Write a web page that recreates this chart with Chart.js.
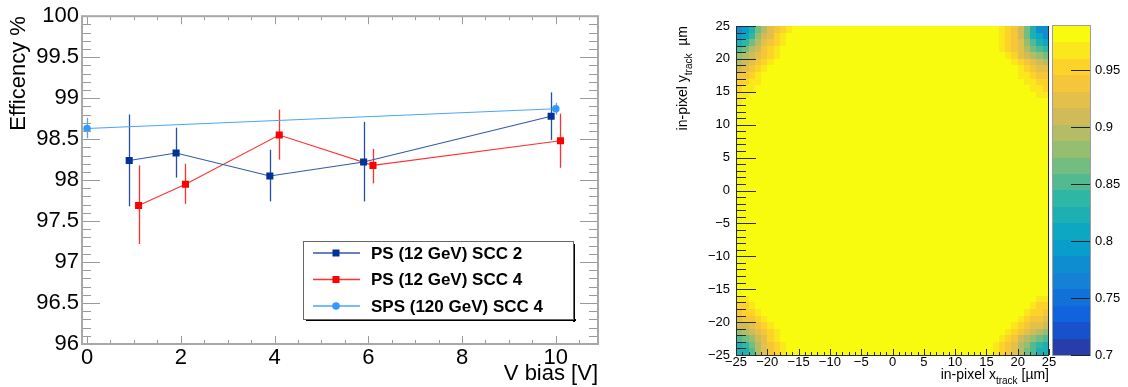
<!DOCTYPE html>
<html>
<head>
<meta charset="utf-8">
<script src="https://cdn.jsdelivr.net/npm/chart.js@4.4.1/dist/chart.umd.min.js"></script>
<style>
html, body { margin: 0; padding: 0; background: #fff; }
body { width: 1128px; height: 387px; position: relative; overflow: hidden; }
#effBox { position: absolute; left: 0; top: 0; width: 620px; height: 387px; }
#mapBox { position: absolute; left: 640px; top: 0; width: 488px; height: 387px; }
</style>
</head>
<body>
<div id="effBox"><canvas id="effChart"></canvas></div>
<div id="mapBox"><canvas id="mapChart"></canvas></div>
<script>
// efficiency vs bias voltage
const vbias_scc2 = [0.9, 1.9, 3.9, 5.9, 9.9];
const eff_scc2 = [98.24, 98.33, 98.05, 98.22, 98.78];
const errLo_scc2 = [97.68, 98.03, 97.74, 97.74, 98.49];
const errHi_scc2 = [98.80, 98.64, 98.37, 98.71, 99.07];

const vbias_scc4 = [1.1, 2.1, 4.1, 6.1, 10.1];
const eff_scc4 = [97.69, 97.95, 98.55, 98.18, 98.48];
const errLo_scc4 = [97.22, 97.71, 98.25, 97.96, 98.15];
const errHi_scc4 = [98.18, 98.20, 98.86, 98.38, 98.81];

const vbias_sps = [0, 10];
const eff_sps = [98.63, 98.87];
const errLo_sps = [98.51, 98.80];
const errHi_sps = [98.76, 98.94];

const xTickLabels = [0, 2, 4, 6, 8, 10];
const yTickLabels = [96, 96.5, 97, 97.5, 98, 98.5, 99, 99.5, 100];

// in-pixel efficiency map, 1 um bins from -25 to 25
const mapTickLabels = [-25, -20, -15, -10, -5, 0, 5, 10, 15, 20, 25];
const zTickLabels = [0.7, 0.75, 0.8, 0.85, 0.9, 0.95];
const zMin = 0.7;
const zMax = 0.9886;
const plateauEff = 0.985;
// corners: row 0 is the row at the pixel edge, each row starts at the corner column
const cornerTopLeft = [
  [0.779, 0.794, 0.823, 0.866, 0.895, 0.924, 0.938, 0.953, 0.967],
  [0.794, 0.808, 0.837, 0.880, 0.909, 0.924, 0.953, 0.967],
  [0.823, 0.837, 0.866, 0.895, 0.924, 0.938, 0.953, 0.967],
  [0.852, 0.866, 0.895, 0.909, 0.938, 0.953, 0.967],
  [0.880, 0.895, 0.909, 0.924, 0.938, 0.953, 0.967],
  [0.895, 0.909, 0.924, 0.938, 0.953, 0.967],
  [0.909, 0.924, 0.938, 0.953, 0.967],
  [0.938, 0.938, 0.953, 0.967],
  [0.953, 0.953, 0.967, 0.967],
  [0.953, 0.967, 0.967],
  [0.967, 0.967],
  [0.967]
];
const cornerTopRight = [
  [0.779, 0.782, 0.823, 0.866, 0.909, 0.938, 0.953, 0.967],
  [0.785, 0.808, 0.823, 0.866, 0.909, 0.938, 0.953, 0.967],
  [0.808, 0.823, 0.852, 0.880, 0.924, 0.938, 0.953, 0.967],
  [0.837, 0.852, 0.866, 0.895, 0.924, 0.938, 0.953, 0.967],
  [0.866, 0.880, 0.895, 0.909, 0.924, 0.953, 0.967],
  [0.895, 0.909, 0.924, 0.938, 0.953, 0.967],
  [0.924, 0.924, 0.938, 0.953, 0.967],
  [0.938, 0.938, 0.953, 0.967, 0.967],
  [0.953, 0.953, 0.967, 0.967],
  [0.953, 0.967, 0.967],
  [0.967, 0.967]
];
const cornerBottomLeft = [
  [0.823, 0.823, 0.852, 0.895, 0.924, 0.938, 0.953, 0.967],
  [0.823, 0.837, 0.866, 0.895, 0.924, 0.938, 0.953, 0.967],
  [0.852, 0.866, 0.880, 0.909, 0.924, 0.953, 0.967],
  [0.880, 0.895, 0.909, 0.924, 0.938, 0.953, 0.967],
  [0.909, 0.909, 0.924, 0.938, 0.953, 0.967],
  [0.924, 0.938, 0.938, 0.953, 0.967],
  [0.938, 0.953, 0.953, 0.967],
  [0.953, 0.953, 0.967],
  [0.967, 0.967]
];
const cornerBottomRight = [
  [0.823, 0.823, 0.852, 0.866, 0.895, 0.924, 0.938, 0.953, 0.967],
  [0.823, 0.837, 0.852, 0.880, 0.895, 0.924, 0.938, 0.953, 0.967],
  [0.852, 0.866, 0.880, 0.895, 0.909, 0.938, 0.953, 0.967],
  [0.880, 0.895, 0.909, 0.924, 0.938, 0.953, 0.967],
  [0.909, 0.924, 0.924, 0.938, 0.953, 0.967],
  [0.924, 0.938, 0.938, 0.953, 0.967],
  [0.938, 0.953, 0.953, 0.967],
  [0.953, 0.953, 0.967],
  [0.967, 0.967]
];

Chart.defaults.font.family = "'Liberation Sans', Arial, sans-serif";
Chart.defaults.color = '#000';

// ROOT style frame with ticks pointing inwards
const effFrame = {
  id: 'effFrame',
  afterDatasetsDraw(chart) {
    const { ctx, chartArea: a, scales: { x, y } } = chart;
    ctx.save();
    ctx.strokeStyle = '#9a9a9a';
    ctx.lineWidth = 1;
    ctx.beginPath();
    for (let i = 0; i <= 40; i++) {
      const v = 96 + i * 0.1;
      const py = Math.round(y.getPixelForValue(v)) + 0.5;
      const len = i % 5 === 0 ? 18 : 9;
      ctx.moveTo(a.left, py); ctx.lineTo(a.left + len, py);
      ctx.moveTo(a.right, py); ctx.lineTo(a.right - len, py);
    }
    for (let i = 0; i <= 21; i++) {
      const v = i * 0.5;
      const px = Math.round(x.getPixelForValue(v)) + 0.5;
      const len = i % 4 === 0 ? 8 : 4;
      ctx.moveTo(px, a.bottom); ctx.lineTo(px, a.bottom - len);
      ctx.moveTo(px, a.top); ctx.lineTo(px, a.top + len);
    }
    ctx.stroke();
    ctx.strokeStyle = '#a8a8a8';
    ctx.lineWidth = 2;
    ctx.strokeRect(a.left, a.top, a.right - a.left, a.bottom - a.top);
    ctx.restore();
  }
};

const errorBars = {
  id: 'errorBars',
  beforeDatasetsDraw(chart) {
    const { ctx, scales: { x, y } } = chart;
    chart.data.datasets.forEach(ds => {
      ctx.save();
      ctx.strokeStyle = ds.errColor;
      ctx.lineWidth = 1.3;
      ds.data.forEach((p, j) => {
        const px = Math.round(x.getPixelForValue(p.x)) + 0.5;
        ctx.beginPath();
        ctx.moveTo(px, y.getPixelForValue(ds.errLo[j]));
        ctx.lineTo(px, y.getPixelForValue(ds.errHi[j]));
        ctx.stroke();
      });
      ctx.restore();
    });
  }
};

const legendBox = {
  id: 'legendBox',
  afterDraw(chart) {
    const { ctx } = chart;
    const bx = 303, by = 241, bw = 270, bh = 78;
    ctx.save();
    ctx.fillStyle = '#000';
    ctx.fillRect(bx + 3, by + bh, bw, 2);
    ctx.fillRect(bx + bw, by + 3, 2, bh);
    ctx.fillStyle = '#fff';
    ctx.fillRect(bx, by, bw, bh);
    ctx.strokeStyle = '#666';
    ctx.lineWidth = 1;
    ctx.strokeRect(bx + 0.5, by + 0.5, bw, bh);
    ctx.font = "bold 17px 'Liberation Sans', Arial, sans-serif";
    ctx.textBaseline = 'middle';
    chart.data.datasets.forEach((ds, i) => {
      const ry = by + 12 + i * 26.5;
      ctx.strokeStyle = ds.borderColor;
      ctx.lineWidth = 1.3;
      ctx.beginPath(); ctx.moveTo(313, ry); ctx.lineTo(360, ry); ctx.stroke();
      ctx.fillStyle = ds.pointBackgroundColor;
      if (ds.pointStyle === 'rect') {
        ctx.fillRect(332.5, ry - 3.5, 7, 7);
      } else {
        ctx.beginPath(); ctx.arc(336, ry, 3.8, 0, Math.PI * 2); ctx.fill();
      }
      ctx.fillStyle = '#000';
      ctx.fillText(ds.label, 371, ry + 1);
    });
    ctx.restore();
  }
};

function toPoints(xs, ys) {
  return xs.map((v, i) => ({ x: v, y: ys[i] }));
}

new Chart(document.getElementById('effChart'), {
  type: 'scatter',
  data: {
    datasets: [
      {
        label: 'PS (12 GeV) SCC 2',
        data: toPoints(vbias_scc2, eff_scc2),
        errLo: errLo_scc2, errHi: errHi_scc2, errColor: '#2650a6',
        showLine: true, borderColor: '#3358a8', borderWidth: 1.1,
        pointStyle: 'rect', pointRadius: 5,
        pointBackgroundColor: '#003399', pointBorderColor: '#003399', pointBorderWidth: 0
      },
      {
        label: 'PS (12 GeV) SCC 4',
        data: toPoints(vbias_scc4, eff_scc4),
        errLo: errLo_scc4, errHi: errHi_scc4, errColor: '#ff3030',
        showLine: true, borderColor: '#ff3030', borderWidth: 1.1,
        pointStyle: 'rect', pointRadius: 5,
        pointBackgroundColor: '#ff0000', pointBorderColor: '#ff0000', pointBorderWidth: 0
      },
      {
        label: 'SPS (120 GeV) SCC 4',
        data: toPoints(vbias_sps, eff_sps),
        errLo: errLo_sps, errHi: errHi_sps, errColor: '#4aa3ff',
        showLine: true, borderColor: '#4aa3ff', borderWidth: 1.1,
        pointStyle: 'circle', pointRadius: 3.8,
        pointBackgroundColor: '#3399ff', pointBorderColor: '#3399ff', pointBorderWidth: 0
      }
    ]
  },
  options: {
    responsive: true,
    maintainAspectRatio: false,
    animation: false,
    devicePixelRatio: 1,
    layout: { padding: { left: 6, top: 15, right: 22, bottom: 0 } },
    plugins: { legend: { display: false }, tooltip: { enabled: false } },
    scales: {
      x: {
        type: 'linear', min: -0.107, max: 10.9,
        afterBuildTicks: s => { s.ticks = xTickLabels.map(v => ({ value: v })); },
        afterFit: s => { s.height = 43; },
        grid: { display: false, drawTicks: false },
        border: { display: false },
        ticks: { font: { size: 22 }, padding: 1, maxRotation: 0, autoSkip: false, callback: v => String(v) },
        title: { display: true, text: 'V bias [V]', align: 'end', font: { size: 22 }, padding: 0 }
      },
      y: {
        type: 'linear', min: 96, max: 100,
        afterBuildTicks: s => { s.ticks = yTickLabels.map(v => ({ value: v })); },
        afterFit: s => { s.width = 76; },
        grid: { display: false, drawTicks: false },
        border: { display: false },
        ticks: { font: { size: 22 }, padding: 3, autoSkip: false, callback: v => String(v) },
        title: { display: true, text: 'Efficency %', align: 'end', font: { size: 22 }, padding: 0 }
      }
    }
  },
  plugins: [errorBars, effFrame, legendBox]
});

// kBird palette
const birdStops = [0, 0.125, 0.25, 0.375, 0.5, 0.625, 0.75, 0.875, 1];
const birdR = [0.2082, 0.0592, 0.0780, 0.0232, 0.1802, 0.5301, 0.8186, 0.9956, 0.9764];
const birdG = [0.1664, 0.3599, 0.5041, 0.6419, 0.7178, 0.7492, 0.7328, 0.7862, 0.9832];
const birdB = [0.5293, 0.8684, 0.8385, 0.7914, 0.6425, 0.4662, 0.3499, 0.1968, 0.0539];
const nContours = 20;

function birdColor(t) {
  let i = 0;
  while (i < birdStops.length - 2 && t > birdStops[i + 1]) i++;
  const f = (t - birdStops[i]) / (birdStops[i + 1] - birdStops[i]);
  const c = arr => Math.round(255 * (arr[i] + f * (arr[i + 1] - arr[i])));
  return `rgb(${c(birdR)},${c(birdG)},${c(birdB)})`;
}
const bandColors = [];
for (let k = 0; k < nContours; k++) {
  bandColors.push(birdColor(Math.min(1, Math.floor((k + 0.99) * 255 / nContours) / 254)));
}
function colorFor(z) {
  let k = Math.floor((z - zMin) / (zMax - zMin) * nContours);
  k = Math.max(0, Math.min(nContours - 1, k));
  return bandColors[k];
}

// 50 x 50 map, index [ix][iy]
const nBins = 50;
const effMap = [];
for (let ix = 0; ix < nBins; ix++) effMap.push(new Array(nBins).fill(plateauEff));
cornerTopLeft.forEach((row, r) => row.forEach((v, c) => { effMap[c][nBins - 1 - r] = v; }));
cornerTopRight.forEach((row, r) => row.forEach((v, c) => { effMap[nBins - 1 - c][nBins - 1 - r] = v; }));
cornerBottomLeft.forEach((row, r) => row.forEach((v, c) => { effMap[c][r] = v; }));
cornerBottomRight.forEach((row, r) => row.forEach((v, c) => { effMap[nBins - 1 - c][r] = v; }));

const mapCells = {
  id: 'mapCells',
  beforeDatasetsDraw(chart) {
    const { ctx, scales: { x, y, z } } = chart;
    ctx.save();
    for (let ix = 0; ix < nBins; ix++) {
      const x0 = Math.round(x.getPixelForValue(-25 + ix));
      const x1 = Math.round(x.getPixelForValue(-24 + ix));
      for (let iy = 0; iy < nBins; iy++) {
        const y0 = Math.round(y.getPixelForValue(-24 + iy));
        const y1 = Math.round(y.getPixelForValue(-25 + iy));
        ctx.fillStyle = colorFor(effMap[ix][iy]);
        ctx.fillRect(x0, y0, x1 - x0, y1 - y0);
      }
    }
    // colour bar
    const barL = z.left + 4, barR = z.left + 41;
    const dz = (zMax - zMin) / nContours;
    for (let k = 0; k < nContours; k++) {
      const yb = Math.round(z.getPixelForValue(zMin + k * dz));
      const yt = Math.round(z.getPixelForValue(zMin + (k + 1) * dz));
      ctx.fillStyle = bandColors[k];
      ctx.fillRect(barL, yt, barR - barL, yb - yt);
    }
    ctx.strokeStyle = '#a0a0a0';
    ctx.lineWidth = 1;
    ctx.strokeRect(barL - 0.5, z.top - 0.5, barR - barL + 1, z.bottom - z.top + 1);
    ctx.strokeStyle = '#222';
    ctx.beginPath();
    zTickLabels.forEach(v => {
      const py = Math.round(z.getPixelForValue(v)) + 0.5;
      ctx.moveTo(barR - 19, py); ctx.lineTo(barR, py);
    });
    ctx.stroke();
    ctx.restore();
  },
  afterDatasetsDraw(chart) {
    const { ctx, chartArea: a, scales: { x, y } } = chart;
    ctx.save();
    ctx.strokeStyle = '#2a2a2a';
    ctx.lineWidth = 1;
    ctx.beginPath();
    for (let i = 0; i <= 50; i++) {
      const py = Math.round(y.getPixelForValue(-25 + i)) + 0.5;
      const len = i % 5 === 0 ? 20 : 10;
      ctx.moveTo(a.left, py); ctx.lineTo(a.left + len, py);
      const px = Math.round(x.getPixelForValue(-25 + i)) + 0.5;
      const lx = i % 5 === 0 ? 6 : 3;
      ctx.moveTo(px, a.bottom); ctx.lineTo(px, a.bottom - lx);
    }
    ctx.moveTo(a.left + 0.5, a.top); ctx.lineTo(a.left + 0.5, a.bottom);
    ctx.moveTo(a.left, a.bottom + 0.5); ctx.lineTo(a.right, a.bottom + 0.5);
    ctx.moveTo(a.right - 0.5, a.top); ctx.lineTo(a.right - 0.5, a.bottom);
    ctx.stroke();

    // axis titles with subscripts
    const big = "14px 'Liberation Sans', Arial, sans-serif";
    const small = "10px 'Liberation Sans', Arial, sans-serif";
    const parts = (pre, sub, post) => {
      ctx.font = big; const w1 = ctx.measureText(pre).width; const w3 = ctx.measureText(post).width;
      ctx.font = small; const w2 = ctx.measureText(sub).width;
      return { w1, w2, w3, total: w1 + w2 + w3 };
    };
    ctx.fillStyle = '#000';
    ctx.textBaseline = 'alphabetic';
    ctx.textAlign = 'left';
    let p = parts('in-pixel x', 'track', ' [\u00b5m]');
    let sx = a.right - p.total, by = 379;
    ctx.font = big; ctx.fillText('in-pixel x', sx, by);
    ctx.font = small; ctx.fillText('track', sx + p.w1, by + 5);
    ctx.font = big; ctx.fillText(' [\u00b5m]', sx + p.w1 + p.w2, by);

    p = parts('in-pixel y', 'track', '  \u00b5m');
    ctx.translate(47, a.top);
    ctx.rotate(-Math.PI / 2);
    sx = -p.total;
    ctx.font = big; ctx.fillText('in-pixel y', sx, 0);
    ctx.font = small; ctx.fillText('track', sx + p.w1, 5);
    ctx.font = big; ctx.fillText('  \u00b5m', sx + p.w1 + p.w2, 0);
    ctx.restore();
  }
};

const minusLabel = v => String(v).replace('-', '\u2212');

new Chart(document.getElementById('mapChart'), {
  type: 'scatter',
  data: { datasets: [{ data: [] }] },
  options: {
    responsive: true,
    maintainAspectRatio: false,
    animation: false,
    devicePixelRatio: 1,
    layout: { padding: { left: 0, top: 26, right: 0, bottom: 0 } },
    plugins: { legend: { display: false }, tooltip: { enabled: false } },
    scales: {
      x: {
        type: 'linear', min: -25, max: 25,
        afterBuildTicks: s => { s.ticks = mapTickLabels.map(v => ({ value: v })); },
        afterFit: s => { s.height = 32; },
        grid: { display: false, drawTicks: false },
        border: { display: false },
        ticks: { font: { size: 13 }, padding: 0, maxRotation: 0, autoSkip: false, callback: minusLabel }
      },
      y: {
        type: 'linear', min: -25, max: 25,
        afterBuildTicks: s => { s.ticks = mapTickLabels.map(v => ({ value: v })); },
        afterFit: s => { s.width = 96; },
        grid: { display: false, drawTicks: false },
        border: { display: false },
        ticks: { font: { size: 13 }, padding: 6, autoSkip: false, callback: minusLabel }
      },
      z: {
        axis: 'y', position: 'right', type: 'linear', min: zMin, max: zMax,
        afterBuildTicks: s => { s.ticks = zTickLabels.map(v => ({ value: v })); },
        afterFit: s => { s.width = 79; },
        grid: { display: true, drawOnChartArea: false, drawTicks: true, tickLength: 46, color: 'rgba(0,0,0,0)' },
        border: { display: false },
        ticks: { font: { size: 13 }, padding: 0, autoSkip: false, callback: v => String(v) }
      }
    }
  },
  plugins: [mapCells]
});
</script>
</body>
</html>
